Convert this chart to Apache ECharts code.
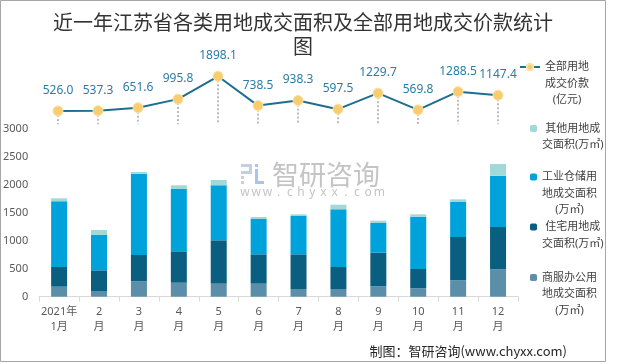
<!DOCTYPE html>
<html><head><meta charset="utf-8">
<script src="https://cdn.jsdelivr.net/npm/echarts@6/dist/echarts.min.js"></script>
<style>html,body{margin:0;padding:0;background:#fff}#c{width:620px;height:364px}</style>
</head><body><div id="c"></div>
<script>
const categories = ['2021年\n1月','2\n月','3\n月','4\n月','5\n月','6\n月','7\n月','8\n月','9\n月','10\n月','11\n月','12\n月'];
const priceTotal = [526.0,537.3,651.6,995.8,1898.1,738.5,938.3,597.5,1229.7,569.8,1288.5,1147.4];
const areaCommercial = [179,102,275,250,233,233,138,138,186,150,293,490];
const areaResidential = [352,370,471,562,776,525,620,393,601,346,775,757];
const areaIndustrial = [1176,637,1454,1115,984,632,686,1032,531,935,626,918];
const areaOther = [53,84,31,66,95,36,30,83,42,43,48,209];
const seriesNames = ['全部用地成交价款(亿元)','其他用地成交面积(万㎡)','工业仓储用地成交面积(万㎡)','住宅用地成交面积(万㎡)','商服办公用地成交面积(万㎡)'];
const legendLines = {
  '全部用地成交价款(亿元)': ['全部用地','成交价款','(亿元)'],
  '其他用地成交面积(万㎡)': ['其他用地成','交面积(万㎡)'],
  '工业仓储用地成交面积(万㎡)': ['工业仓储用','地成交面积','(万㎡)'],
  '住宅用地成交面积(万㎡)': ['住宅用地成','交面积(万㎡)'],
  '商服办公用地成交面积(万㎡)': ['商服办公用','地成交面积','(万㎡)']
};
const titleText = '近一年江苏省各类用地成交面积及全部用地成交价款统计\n图';
const sourceText = '制图：智研咨询(www.chyxx.com)';
const watermarkUrl = 'www.chyxx.com';

const FONT = '"Noto Sans","Noto Sans CJK SC",sans-serif';
const LH = 16.5;
const colors = {line:'#1d6f8f', marker:'#f7cd6f', other:'#a2d8d8', ind:'#00a2db', res:'#0a5f80', com:'#5b8fa9'};

function mkLegend(name, yc, left, iconW, iconH) {
  const n = legendLines[name].length;
  const P = (n - 1) * LH;
  return {
    data: [name], left: left, top: yc - (2 * n - 1) * LH / 2, padding: 0,
    orient: 'vertical', itemWidth: iconW, itemHeight: iconH, itemGap: 0,
    selectedMode: false,
    formatter: nm => legendLines[nm].map(s => '{c|' + s + '}').join('\n'),
    textStyle: {
      fontFamily: FONT, fontSize: 11, color: '#404040', lineHeight: LH,
      padding: [P, 0, 0, 0],
      rich: {c: {align: 'center', fontFamily: FONT, fontSize: 11, color: '#404040', lineHeight: LH}}
    }
  };
}

const wmChars = watermarkUrl.split('').map((ch, i) => ({
  type: 'text', style: {text: ch, x: 245 + i * 11.2, y: 193, align: 'center', verticalAlign: 'middle',
    font: '12px "Noto Sans", sans-serif', fill: '#c4c4c4'}
}));

const chart = echarts.init(document.getElementById('c'), null, {renderer: 'canvas'});
chart.setOption({
  animation: false,
  backgroundColor: '#fff',
  legend: [
    mkLegend(seriesNames[0], 67, 519, 20, 8),
    mkLegend(seriesNames[1], 128.5, 530, 7, 7),
    mkLegend(seriesNames[2], 177, 530, 7, 7),
    mkLegend(seriesNames[3], 227, 530, 7, 7),
    mkLegend(seriesNames[4], 277.5, 530, 7, 7)
  ],
  grid: [
    {left: 38, width: 480, top: 129, height: 167.7},
    {left: 38, width: 480, top: 73.7, height: 50.6}
  ],
  xAxis: [
    {type: 'category', gridIndex: 0, data: categories,
     axisLine: {lineStyle: {color: '#d9d9d9'}},
     axisTick: {show: true, length: 5, lineStyle: {color: '#d9d9d9'}},
     axisLabel: {color: '#595959', fontFamily: FONT, fontSize: 11, lineHeight: 15, margin: 8, interval: 0}},
    {type: 'category', gridIndex: 1, data: categories, show: false}
  ],
  yAxis: [
    {type: 'value', gridIndex: 0, min: 0, max: 3000, interval: 500,
     axisLine: {show: false}, axisTick: {show: false}, splitLine: {show: false},
     axisLabel: {color: '#595959', fontFamily: FONT, fontSize: 11, margin: 11, formatter: v => String(v)}},
    {type: 'value', gridIndex: 1, min: 0, max: 2000, show: false, splitLine: {show: false}}
  ],
  series: [
    {name: seriesNames[4], type: 'bar', stack: 'a', data: areaCommercial, barWidth: 16, itemStyle: {color: colors.com}},
    {name: seriesNames[3], type: 'bar', stack: 'a', data: areaResidential, barWidth: 16, itemStyle: {color: colors.res}},
    {name: seriesNames[2], type: 'bar', stack: 'a', data: areaIndustrial, barWidth: 16, itemStyle: {color: colors.ind}},
    {name: seriesNames[1], type: 'bar', stack: 'a', data: areaOther, barWidth: 16, itemStyle: {color: colors.other}},
    {name: seriesNames[0], type: 'line', xAxisIndex: 1, yAxisIndex: 1, data: priceTotal, z: 5,
     symbol: 'circle', symbolSize: 10,
     lineStyle: {color: colors.line, width: 2},
     itemStyle: {color: colors.marker, borderColor: '#fbe2a6', borderWidth: 1},
     label: {show: true, position: 'top', distance: 9, color: '#2b7ca5', fontFamily: FONT, fontSize: 12,
             formatter: p => p.value.toFixed(1)},
     markLine: {silent: true, symbol: ['none', 'none'], label: {show: false}, z: 1,
       lineStyle: {color: '#a6a6a6', type: [2, 2], width: 1.5},
       data: priceTotal.map((v, i) => [{coord: [i, v]}, {coord: [i, 0]}])}
    }
  ],
  graphic: [
    {type: 'rect', z: 100, shape: {x: 0.5, y: 0.5, width: 605, height: 361}, style: {fill: 'none', stroke: '#a6a6a6', lineWidth: 1}},
    {type: 'text', z: 100, style: {text: titleText, x: 303, y: 10, align: 'center', verticalAlign: 'top',
      font: '20px "Noto Sans CJK SC", sans-serif', lineHeight: 24, fill: '#333333'}},
    {type: 'text', z: 100, style: {text: sourceText, x: 567, y: 351, align: 'right', verticalAlign: 'middle',
      font: '13px "Noto Sans CJK SC", sans-serif', fill: '#262626'}},
    {type: 'group', z: 0, silent: true, children: [
      {type: 'rect', shape: {x: 241, y: 164, width: 10, height: 3}, style: {fill: '#c3cfe3'}},
      {type: 'rect', shape: {x: 249, y: 164, width: 3, height: 10}, style: {fill: '#c3cfe3'}},
      {type: 'rect', shape: {x: 241, y: 171, width: 11, height: 3}, style: {fill: '#c3cfe3'}},
      {type: 'rect', shape: {x: 241, y: 176, width: 3, height: 3}, style: {fill: '#c3cfe3'}},
      {type: 'rect', shape: {x: 241, y: 181, width: 3, height: 3}, style: {fill: '#c3cfe3'}},
      {type: 'rect', shape: {x: 255, y: 164, width: 3, height: 3}, style: {fill: '#a9c6e8'}},
      {type: 'rect', shape: {x: 255, y: 169, width: 3, height: 12}, style: {fill: '#a9c6e8'}},
      {type: 'rect', shape: {x: 255, y: 181, width: 9, height: 3}, style: {fill: '#a9c6e8'}},
      {type: 'text', style: {text: '智研咨询', x: 272, y: 175, verticalAlign: 'middle',
        font: '27px "Noto Sans CJK SC", sans-serif', fill: '#c4c4c4'}}
    ].concat(wmChars)}
  ]
});
</script></body></html>
